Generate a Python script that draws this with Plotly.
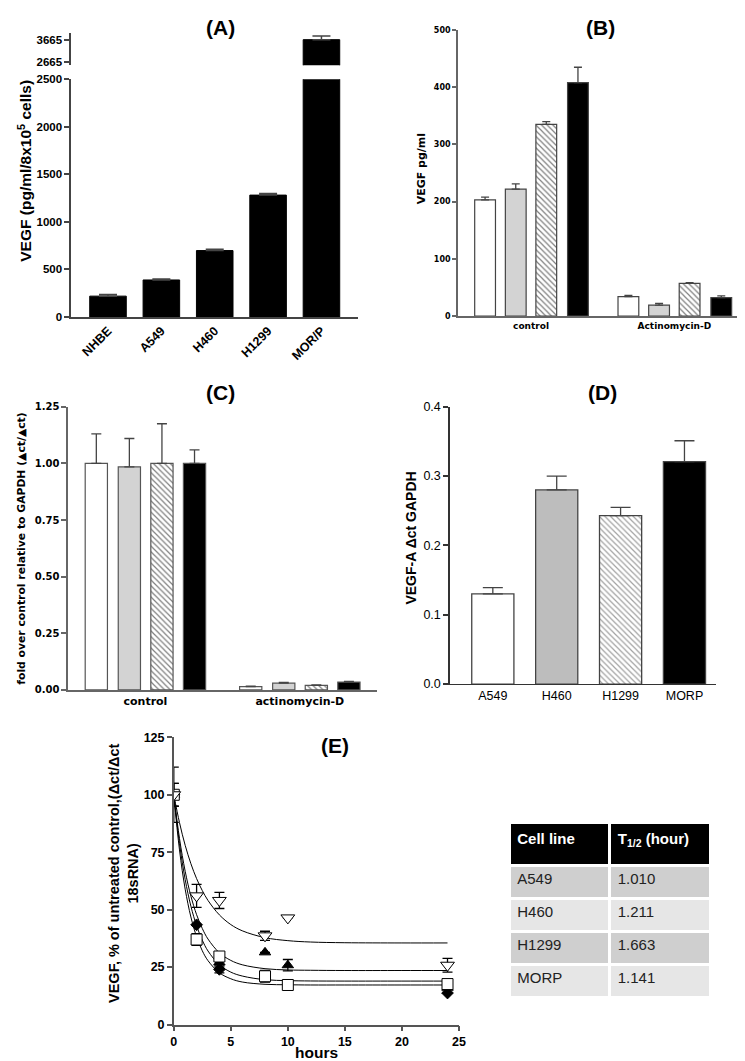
import plotly.graph_objects as go

W, H = 745, 1061

# ---------------- data ----------------
# Panel A
a_cells = ["NHBE", "A549", "H460", "H1299", "MOR/P"]
a_vegf = [219, 389, 698, 1281, 3665]
a_err = [17, 10, 14, 18, 160]
a_lower_ticks = [0, 500, 1000, 1500, 2000, 2500]
a_upper_ticks = [2665, 3665]

# Panel B
b_groups = ["control", "Actinomycin-D"]
b_white = [203, 34]
b_white_err = [5, 2]
b_grey = [222, 19]
b_grey_err = [9, 3]
b_hatch = [335, 57]
b_hatch_err = [5, 1.5]
b_black = [408, 32]
b_black_err = [27, 3]
b_ticks = [0, 100, 200, 300, 400, 500]

# Panel C
c_groups = ["control", "actinomycin-D"]
c_white = [1.00, 0.015]
c_white_err = [0.13, 0.002]
c_grey = [0.985, 0.030]
c_grey_err = [0.125, 0.003]
c_hatch = [1.00, 0.020]
c_hatch_err = [0.175, 0.002]
c_black = [1.00, 0.035]
c_black_err = [0.06, 0.003]
c_ticks = [0.0, 0.25, 0.5, 0.75, 1.0, 1.25]

# Panel D
d_cells = ["A549", "H460", "H1299", "MORP"]
d_vals = [0.130, 0.280, 0.243, 0.321]
d_err = [0.009, 0.020, 0.012, 0.030]
d_ticks = [0.0, 0.1, 0.2, 0.3, 0.4]

# Panel E (points)
e_t_h1299 = [0, 2, 4, 8, 10, 24]
e_h1299 = [100, 56, 54, 38.6, 46.4, 25.8]
e_h1299_err = [12, 5, 3.5, 2, 0, 3]
e_t_h460 = [0, 4, 8, 10, 24]
e_h460 = [100, 27, 31.4, 25.8, 16]
e_h460_err = [5, 2, 0, 2.5, 0]
e_t_morp = [0, 2, 4, 24]
e_morp = [100, 43.4, 24, 13.7]
e_morp_err = [5, 0, 1.5, 0]
e_t_a549 = [0, 2, 4, 8, 10, 24]
e_a549 = [100, 37, 29.6, 21, 17.2, 17.6]
e_a549_err = [1.5, 2.5, 2, 2.5, 0.5, 0.5]
# Panel E fitted curves
e_fit_t = [0, 0.5, 1, 1.5, 2, 2.5, 3, 4, 5, 6, 8, 10, 12, 15, 20, 24]
e_fit_h1299 = [100, 87.9, 78.0, 70.0, 63.5, 58.3, 54.0, 47.7, 43.5, 40.8, 37.8, 36.5, 35.9, 35.6, 35.5, 35.5]
e_fit_h460 = [100, 81.0, 66.7, 55.9, 47.8, 41.8, 37.2, 31.2, 27.9, 26.0, 24.3, 23.75, 23.6, 23.5, 23.5, 23.5]
e_fit_morp = [100, 78.8, 63.1, 51.5, 43.0, 36.7, 32.0, 26.0, 22.8, 21.1, 19.5, 19.1, 18.95, 18.9, 18.9, 18.9]
e_fit_a549 = [100, 76.0, 58.9, 46.8, 38.2, 32.1, 27.8, 22.5, 19.9, 18.5, 17.5, 17.3, 17.2, 17.2, 17.2, 17.2]
e_yticks = [0, 25, 50, 75, 100, 125]
e_xticks = [0, 5, 10, 15, 20, 25]

# Table
t_lines = ["A549", "H460", "H1299", "MORP"]
t_half = ["1.010", "1.211", "1.663", "1.141"]

# ---------------- helpers ----------------
def fx(p):
    return p / W

def fy(p):
    return 1 - p / H

def dom_y(top, bottom):
    return [fy(bottom), fy(top)]

ARIAL = "Liberation Sans"
DJ = "DejaVu Sans"
GREY_B = "#d3d3d3"
GREY_D = "#bdbdbd"

fig = go.Figure()

# ---------------- Panel A ----------------
for yax in ["y", "y2"]:
    fig.add_trace(go.Bar(
        x=a_cells, y=a_vegf, xaxis="x", yaxis=yax, width=0.685,
        marker=dict(color="black", line=dict(color="black", width=1)),
        error_y=dict(type="data", array=a_err, arrayminus=[0] * len(a_err), symmetric=False,
                     color="#444", thickness=1.5, width=9),
        showlegend=False, hoverinfo="skip"))

# ---------------- Panel B / C grouped ----------------
def grouped(groups, series, xa, ya, offsets, width, line_col, errcol, capw):
    for vals, errs, style, off in zip(*series, offsets):
        kw = dict(color=style[0], line=dict(color=line_col, width=1.2))
        if style[1]:
            kw["pattern"] = dict(shape="\\", fgcolor="black", bgcolor="white", size=4, solidity=0.3)
        fig.add_trace(go.Bar(
            x=groups, y=vals, xaxis=xa, yaxis=ya, width=width, offset=off,
            marker=kw,
            error_y=dict(type="data", array=errs, arrayminus=[0] * len(errs), symmetric=False,
                         color=errcol, thickness=1.3, width=capw),
            showlegend=False, hoverinfo="skip"))

styles = [("white", False), (GREY_B, False), ("white", True), ("black", False)]
grouped(b_groups,
        ([b_white, b_grey, b_hatch, b_black],
         [b_white_err, b_grey_err, b_hatch_err, b_black_err],
         styles),
        "x2", "y3", [-0.393, -0.179, 0.034, 0.255], 0.145, "#444", "#444", 4)
grouped(c_groups,
        ([c_white, c_grey, c_hatch, c_black],
         [c_white_err, c_grey_err, c_hatch_err, c_black_err],
         styles),
        "x3", "y4", [-0.39, -0.176, 0.035, 0.246], 0.144, "#555", "#444", 5)

# ---------------- Panel D ----------------
fig.add_trace(go.Bar(
    x=d_cells, y=d_vals, xaxis="x4", yaxis="y5", width=0.66,
    marker=dict(color=["white", GREY_D, "white", "black"],
                line=dict(color="#444", width=1.3),
                pattern=dict(shape=["", "", "\\", ""], fgcolor="#333", bgcolor="white",
                             size=4, solidity=0.3)),
    error_y=dict(type="data", array=d_err, arrayminus=[0] * len(d_err), symmetric=False,
                 color="#444", thickness=1.3, width=10),
    showlegend=False, hoverinfo="skip"))

# ---------------- Panel E ----------------
for fit in [e_fit_h1299, e_fit_h460, e_fit_morp, e_fit_a549]:
    fig.add_trace(go.Scatter(
        x=e_fit_t, y=fit, xaxis="x5", yaxis="y6", mode="lines",
        line=dict(color="black", width=1, shape="spline"),
        showlegend=False, hoverinfo="skip"))

def epts(t, v, e, sym, size, color, lcol):
    fig.add_trace(go.Scatter(
        x=t, y=v, xaxis="x5", yaxis="y6", mode="markers",
        marker=dict(symbol=sym, size=size, color=color, line=dict(color=lcol, width=1)),
        error_y=dict(type="data", array=e, color="black", thickness=1.3, width=5),
        showlegend=False, hoverinfo="skip"))

epts(e_t_h460, e_h460, e_h460_err, "triangle-up", 10, "black", "black")
epts(e_t_morp, e_morp, e_morp_err, "diamond", 9, "black", "black")
epts(e_t_a549, e_a549, e_a549_err, "square", 11, "white", "black")
epts(e_t_h1299, e_h1299, e_h1299_err, "triangle-down", 12, "white", "black")

# ---------------- Table ----------------
row_cols = ["#cfcfcf", "#e6e6e6", "#cfcfcf", "#e6e6e6"]
fig.add_trace(go.Table(
    domain=dict(x=[fx(505), fx(709)], y=[fy(1003), fy(818)]),
    columnwidth=[1, 1],
    header=dict(values=["<b>Cell line</b>", "<b>T<sub>1/2</sub> (hour)</b>"],
                fill_color="black", line=dict(color="white", width=3),
                font=dict(family=ARIAL, size=15, color="white"),
                align="left", height=43),
    cells=dict(values=[t_lines, t_half],
               fill_color=[row_cols, row_cols], line=dict(color="white", width=3),
               font=dict(family=ARIAL, size=15, color="#222"),
               align="left", height=33)))

# ---------------- Layout ----------------
def yax(dom, rng, ticks, font, col, ticklen=5, anchor=None, ticktext=None):
    d = dict(domain=dom, range=rng, tickmode="array", tickvals=ticks,
             showline=True, linecolor=col, linewidth=1.5, ticks="outside",
             ticklen=ticklen, tickcolor=col, tickwidth=1.5, showgrid=False,
             zeroline=False, tickfont=font, fixedrange=True)
    if ticktext is not None:
        d["ticktext"] = ticktext
    if anchor:
        d["anchor"] = anchor
    return d

boldA = dict(family=ARIAL, size=11.5, color="black", weight="bold")
boldE = dict(family=ARIAL, size=12.5, color="black", weight="bold")
smallB = dict(family=DJ, size=8, color="black", weight="bold")
smallC = dict(family=DJ, size=10, color="black", weight="bold")
regD = dict(family=ARIAL, size=12.5, color="black")

layout = dict(
    width=W, height=H, autosize=False,
    margin=dict(l=0, r=0, t=0, b=0),
    paper_bgcolor="white", plot_bgcolor="rgba(0,0,0,0)",
    barmode="overlay",
    # A
    xaxis=dict(domain=[fx(61), fx(352)], range=[-0.69, 4.69], anchor="y",
               showline=True, linecolor="#444", linewidth=1.5, ticks="",
               tickangle=-45, tickfont=dict(family=ARIAL, size=12.5, color="black", weight="bold"),
               showgrid=False, zeroline=False, fixedrange=True),
    yaxis=yax(dom_y(65, 306), [0, 2500], a_lower_ticks, boldA, "#444", anchor="x"),
    yaxis2=yax(dom_y(18, 51), [2520, 3973], a_upper_ticks, boldA, "#444", anchor="x"),
    # B
    xaxis2=dict(domain=[fx(453), fx(745)], range=[-0.51, 1.5], anchor="y3",
                showline=True, linecolor="#666", linewidth=1.5, ticks="",
                tickfont=dict(family=DJ, size=9, color="black", weight="bold"),
                showgrid=False, zeroline=False, fixedrange=True),
    yaxis3=yax(dom_y(15.3, 305), [0, 500], b_ticks, smallB, "#666", ticklen=4, anchor="x2"),
    # C
    xaxis3=dict(domain=[fx(58), fx(371)], range=[-0.5, 1.5], anchor="y4",
                showline=True, linecolor="#666", linewidth=1.5, ticks="",
                tickfont=dict(family=DJ, size=11, color="black", weight="bold"),
                showgrid=False, zeroline=False, fixedrange=True),
    yaxis4=yax(dom_y(397, 684), [0, 1.25], c_ticks, smallC, "#666", ticklen=5, anchor="x3",
               ticktext=["0.00", "0.25", "0.50", "0.75", "1.00", "1.25"]),
    # D
    xaxis4=dict(domain=[fx(445), fx(715)], range=[-0.67, 3.5], anchor="y5",
                showline=True, linecolor="#333", linewidth=1.3, ticks="",
                tickfont=regD, showgrid=False, zeroline=False, fixedrange=True),
    yaxis5=yax(dom_y(397, 678), [0, 0.4], d_ticks, regD, "#333", ticklen=5, anchor="x4",
               ticktext=["0.0", "0.1", "0.2", "0.3", "0.4"]),
    # E
    xaxis5=dict(domain=[fx(165), fx(454)], range=[0, 25], anchor="y6",
                tickmode="array", tickvals=e_xticks,
                showline=True, linecolor="#555", linewidth=1.5, ticks="outside",
                ticklen=5, tickcolor="#555", tickwidth=1.5,
                tickfont=boldE, showgrid=False, zeroline=False, fixedrange=True),
    yaxis6=yax(dom_y(732, 1023), [0, 125], e_yticks, boldE, "#555", ticklen=5, anchor="x5"),
)
fig.update_layout(**layout)

def ann(text, x, y, size, family=ARIAL, bold=True, angle=0):
    fig.add_annotation(text=text, x=fx(x), y=fy(y), xref="paper", yref="paper",
                       xanchor="center", yanchor="middle", showarrow=False,
                       textangle=angle,
                       font=dict(family=family, size=size, color="black",
                                 weight="bold" if bold else "normal"))

# panel titles
ann("(A)", 212, 13, 21)
ann("(B)", 598, 13, 21)
ann("(C)", 212, 383, 21)
ann("(D)", 600, 383, 21)
ann("(E)", 328, 740, 21)

# axis titles
ann("VEGF (pg/ml/8x10<sup>5</sup> cells)", 14, 158, 15.5, angle=-90)
ann("VEGF pg/ml", 417, 156, 11, family=DJ, angle=-90)
ann("fold over control relative to GAPDH (\u25b2ct/\u25b2ct)", 11, 541, 10.8, family=DJ, angle=-90)
ann("VEGF-A \u0394ct GAPDH", 405, 530, 14, angle=-90)
ann("VEGF, % of untreated control,(\u0394ct/\u0394ct<br>18sRNA)", 114, 870, 14.5, angle=-90)
ann("hours", 310, 1051, 15.5)

fig.write_html("out.html")
